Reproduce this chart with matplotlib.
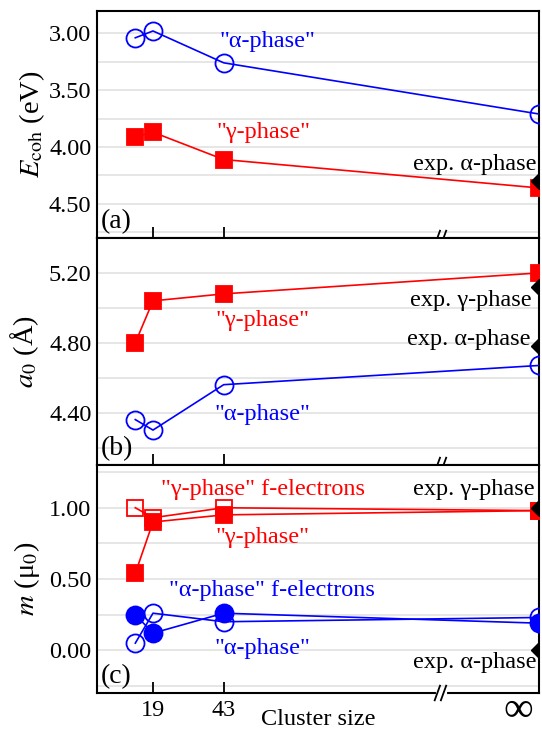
import numpy as np
import matplotlib
matplotlib.use("Agg")
import matplotlib.pyplot as plt
from matplotlib.ticker import FixedLocator
import matplotlib.transforms as mtransforms

plt.rcParams['font.family'] = ['Liberation Serif', 'DejaVu Serif']
plt.rcParams['mathtext.fontset'] = 'stix'

# ---------------- data ----------------
cluster_sizes = [13, 19, 43, np.inf]
X_INF = 150  # plotting position of the infinite (bulk) limit
xtick_values = [19, 43, np.inf]
xtick_labels = ['19', '43', '∞']

ecoh_alpha = [3.04, 2.98, 3.26, 3.71]
ecoh_gamma = [3.91, 3.87, 4.11, 4.36]
ecoh_exp_alpha = 4.30

a0_alpha = [4.36, 4.30, 4.56, 4.67]
a0_gamma = [4.80, 5.04, 5.08, 5.20]
a0_exp_gamma = 5.12
a0_exp_alpha = 4.78

m_alpha = [0.25, 0.12, 0.26, 0.19]
m_alpha_f = [0.05, 0.26, 0.20, 0.23]
m_gamma = [0.54, 0.90, 0.95, 0.98]
m_gamma_f = [1.00, 0.93, 1.00, 0.98]
m_exp_gamma = 1.00
m_exp_alpha = 0.00

ecoh_ticks = [3.0, 3.5, 4.0, 4.5]
ecoh_minor = [3.25, 3.75, 4.25, 4.75]
ecoh_ticklabels = ['3.00', '3.50', '4.00', '4.50']
a0_ticks = [4.4, 4.8, 5.2]
a0_minor = [4.2, 4.6, 5.0]
a0_ticklabels = ['4.40', '4.80', '5.20']
m_ticks = [0.0, 0.5, 1.0]
m_minor = [-0.25, 0.25, 0.75, 1.25]
m_ticklabels = ['0.00', '0.50', '1.00']

def xpos(v):
    return [X_INF if np.isinf(s) else s for s in v]

xs = xpos(cluster_sizes)
BLUE = '#0000ff'
RED = '#ff0000'

fig = plt.figure(figsize=(5.42, 7.36), dpi=100)
L, R = 97 / 542, 539 / 542
def frac(y):
    return 1 - y / 736
axA = fig.add_axes([L, frac(238), R - L, frac(10.5) - frac(238)])
axB = fig.add_axes([L, frac(465), R - L, frac(238) - frac(465)])
axC = fig.add_axes([L, frac(693), R - L, frac(465) - frac(693)])

line_kw = dict(lw=1.2, zorder=3)
circ_open = dict(marker='o', ms=13, mfc='none', mew=1.3)
circ_fill = dict(marker='o', ms=13, mew=1.3)
sq_open = dict(marker='s', ms=12, mfc='none', mew=1.3)
sq_fill = dict(marker='s', ms=12, mew=1.3)
diam = dict(marker='D', ms=8.5, color='black', ls='none', zorder=5)

TS = 17.5   # annotation size
LS = 20.5   # axis label size
PS = 20     # panel label size

def setup_y(ax, major, minor, labels):
    ax.yaxis.set_major_locator(FixedLocator(major))
    ax.yaxis.set_minor_locator(FixedLocator(minor))
    ax.set_yticklabels(labels)
    for v in list(major) + list(minor):
        ax.axhline(v, color='#e2e2e2', lw=1.2, zorder=0.3)

# ----- panel (a) -----
axA.plot(xs, ecoh_alpha, color=BLUE, **circ_open, **line_kw)
axA.plot(xs, ecoh_gamma, color=RED, **sq_fill, **line_kw)
axA.plot([X_INF], [ecoh_exp_alpha], **diam)
axA.set_ylim(4.8, 2.8)
setup_y(axA, ecoh_ticks, ecoh_minor, ecoh_ticklabels)
axA.set_ylabel(r'$E_{\mathrm{coh}}$ (eV)', fontsize=LS)
axA.yaxis.set_label_coords(-0.113, 0.5)
axA.text(57.7, 3.07, '"α-phase"', color=BLUE, fontsize=TS, ha='center', va='center')
axA.text(56.5, 3.87, '"γ-phase"', color=RED, fontsize=TS, ha='center', va='center')
axA.text(149.3, 4.15, 'exp. α-phase', color='black', fontsize=TS, ha='right', va='center')
axA.text(0.008, 0.015, '(a)', transform=axA.transAxes, fontsize=PS, ha='left', va='bottom')

# ----- panel (b) -----
axB.plot(xs, a0_gamma, color=RED, **sq_fill, **line_kw)
axB.plot(xs, a0_alpha, color=BLUE, **circ_open, **line_kw)
axB.plot([X_INF, X_INF], [a0_exp_gamma, a0_exp_alpha], **diam)
axB.set_ylim(4.10, 5.40)
setup_y(axB, a0_ticks, a0_minor, a0_ticklabels)
axB.set_ylabel(r'$a_0$ (Å)', fontsize=LS)
axB.yaxis.set_label_coords(-0.127, 0.5)
axB.text(56, 4.93, '"γ-phase"', color=RED, fontsize=TS, ha='center', va='center')
axB.text(56, 4.39, '"α-phase"', color=BLUE, fontsize=TS, ha='center', va='center')
axB.text(147.4, 5.04, 'exp. γ-phase', color='black', fontsize=TS, ha='right', va='center')
axB.text(147.0, 4.82, 'exp. α-phase', color='black', fontsize=TS, ha='right', va='center')
axB.text(0.008, 0.015, '(b)', transform=axB.transAxes, fontsize=PS, ha='left', va='bottom')

# ----- panel (c) -----
axC.plot(xs, m_gamma_f, color=RED, **sq_open, **line_kw)
axC.plot(xs, m_gamma, color=RED, **sq_fill, **line_kw)
axC.plot(xs, m_alpha_f, color=BLUE, **circ_open, **line_kw)
axC.plot(xs, m_alpha, color=BLUE, **circ_fill, **line_kw)
axC.plot([X_INF, X_INF], [m_exp_gamma, m_exp_alpha], **diam)
axC.set_ylim(-0.30, 1.30)
setup_y(axC, m_ticks, m_minor, m_ticklabels)
axC.set_ylabel(r'$m$ (μ$_0$)', fontsize=LS)
axC.yaxis.set_label_coords(-0.125, 0.5)
axC.text(56.5, 1.13, '"γ-phase" f-electrons', color=RED, fontsize=TS, ha='center', va='center')
axC.text(56, 0.79, '"γ-phase"', color=RED, fontsize=TS, ha='center', va='center')
axC.text(59.5, 0.42, '"α-phase" f-electrons', color=BLUE, fontsize=TS, ha='center', va='center')
axC.text(56, 0.01, '"α-phase"', color=BLUE, fontsize=TS, ha='center', va='center')
axC.text(148.5, 1.13, 'exp. γ-phase', color='black', fontsize=TS, ha='right', va='center')
axC.text(149.0, -0.085, 'exp. α-phase', color='black', fontsize=TS, ha='right', va='center')
axC.text(0.008, 0.015, '(c)', transform=axC.transAxes, fontsize=PS, ha='left', va='bottom')
axC.set_xlabel('Cluster size', fontsize=17.5)
axC.xaxis.set_label_coords(0.5, -0.071)

for ax in (axA, axB, axC):
    ax.set_xlim(0, X_INF)
    ax.set_xticks(xpos(xtick_values))
    ax.tick_params(axis='y', which='both', length=0, pad=4, labelsize=17.5)
    ax.tick_params(axis='x', direction='in', length=8, width=1.3, pad=5, labelsize=17.5, top=False)
    for sp in ax.spines.values():
        sp.set_linewidth(1.5)
    ticks = ax.xaxis.get_major_ticks()
    ticks[-1].tick1line.set_visible(False)
    # break marks on the bottom spine
    trans = ax.transAxes
    bx = 0.776
    ax.plot([bx - 0.004, bx + 0.011], [0.0, 0.0], color='white', lw=3, transform=trans,
            clip_on=False, zorder=10)
    for dx in (-0.006, 0.008):
        ax.plot([bx + dx - 0.006, bx + dx + 0.006], [-0.032, 0.032], color='black', lw=1.3,
                transform=trans, clip_on=False, zorder=11)

for ax in (axA, axB):
    ax.set_xticklabels([])
axC.set_xticklabels(xtick_labels)
inf_lab = axC.get_xticklabels()[-1]
inf_lab.set_fontsize(30)
inf_lab.set_transform(inf_lab.get_transform() +
                      mtransforms.ScaledTranslation(-21 / 100, 8 / 100, fig.dpi_scale_trans))

fig.savefig('out.png', dpi=100)
